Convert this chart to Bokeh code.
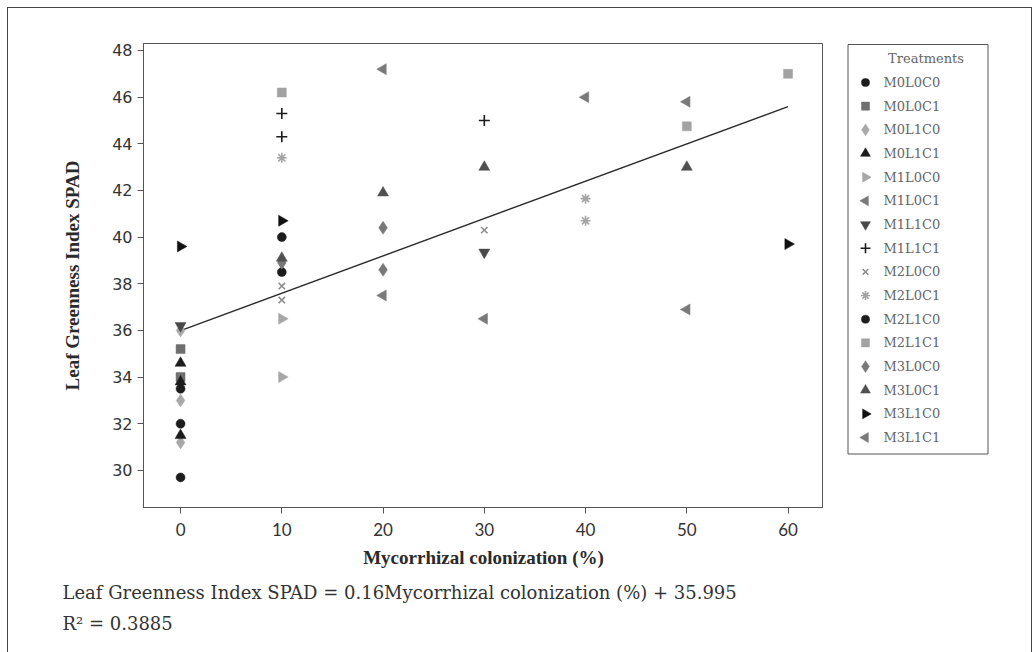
import math
from bokeh.plotting import figure
from bokeh.layouts import row
from bokeh.models import FixedTicker, Range1d, Title
from bokeh.core.properties import value
from bokeh.embed import file_html
from bokeh.resources import INLINE

# ---------------- data ----------------
treatments = ["M0L0C0", "M0L0C1", "M0L1C0", "M0L1C1", "M1L0C0", "M1L0C1",
              "M1L1C0", "M1L1C1", "M2L0C0", "M2L0C1", "M2L1C0", "M2L1C1",
              "M3L0C0", "M3L0C1", "M3L1C0", "M3L1C1"]

point_treatment = [
    "M0L0C0", "M0L0C0", "M0L0C0",
    "M0L0C1", "M0L0C1",
    "M0L1C0", "M0L1C0", "M0L1C0",
    "M0L1C1", "M0L1C1", "M0L1C1",
    "M1L0C0", "M1L0C0",
    "M1L0C1", "M1L0C1", "M1L0C1",
    "M1L1C0", "M1L1C0",
    "M1L1C1", "M1L1C1", "M1L1C1",
    "M2L0C0", "M2L0C0", "M2L0C0",
    "M2L0C1", "M2L0C1", "M2L0C1",
    "M2L1C0", "M2L1C0",
    "M2L1C1", "M2L1C1", "M2L1C1",
    "M3L0C0", "M3L0C0", "M3L0C0",
    "M3L0C1", "M3L0C1", "M3L0C1", "M3L0C1",
    "M3L1C0", "M3L1C0", "M3L1C0",
    "M3L1C1", "M3L1C1", "M3L1C1",
]
colonization = [
    0, 0, 0,
    0, 0,
    0, 0, 0,
    0, 0, 0,
    10, 10,
    20, 20, 30,
    0, 30,
    10, 10, 30,
    10, 10, 30,
    10, 40, 40,
    10, 10,
    10, 50, 60,
    10, 20, 20,
    10, 20, 30, 50,
    0, 10, 60,
    40, 50, 50,
]
spad = [
    33.5, 32.0, 29.7,
    35.2, 34.0,
    36.0, 33.0, 31.2,
    34.6, 33.8, 31.5,
    36.5, 34.0,
    47.2, 37.5, 36.5,
    36.2, 39.35,
    45.3, 44.3, 45.0,
    37.9, 37.3, 40.3,
    43.4, 41.65, 40.7,
    40.0, 38.5,
    46.2, 44.75, 47.0,
    38.9, 40.4, 38.6,
    39.1, 41.9, 43.0, 43.0,
    39.6, 40.7, 39.7,
    46.0, 45.8, 36.9,
]

x_ticks = [0, 10, 20, 30, 40, 50, 60]
y_ticks = [30, 32, 34, 36, 38, 40, 42, 44, 46, 48]

fit_slope = 0.16
fit_intercept = 35.995
r_squared = 0.3885

legend_title = "Treatments"

# ---------------- styles ----------------
BLACK = "#1c1c1c"
styles = {
    "M0L0C0": ("circle", BLACK, 0.0, 9),
    "M0L0C1": ("square", "#6f6f6f", 0.0, 9),
    "M0L1C0": ("diamond", "#a8a8a8", 0.0, 13),
    "M0L1C1": ("triangle", BLACK, 0.0, 11),
    "M1L0C0": ("triangle", "#a6a6a6", -math.pi / 2, 11),
    "M1L0C1": ("triangle", "#7a7a7a", math.pi / 2, 11),
    "M1L1C0": ("inverted_triangle", "#484848", 0.0, 11),
    "M1L1C1": ("cross", BLACK, 0.0, 11),
    "M2L0C0": ("x", "#8c8c8c", 0.0, 9),
    "M2L0C1": ("asterisk", "#a4a4a4", 0.0, 10),
    "M2L1C0": ("circle", BLACK, 0.0, 9),
    "M2L1C1": ("square", "#a2a2a2", 0.0, 9),
    "M3L0C0": ("diamond", "#787878", 0.0, 13),
    "M3L0C1": ("triangle", "#505050", 0.0, 11),
    "M3L1C0": ("triangle", "#111111", -math.pi / 2, 11),
    "M3L1C1": ("triangle", "#7a7a7a", math.pi / 2, 11),
}


def marker_kw(t, scale=1.0):
    marker, color, ang, size = styles[t]
    kw = dict(marker=marker, size=size * scale, angle=ang)
    if marker in ("cross", "x", "asterisk"):
        kw.update(line_color=color, line_width=1.6, fill_color=None)
    else:
        kw.update(fill_color=color, line_color=color, line_width=0.5)
    return kw


FRAME_TOP, FRAME_BOTTOM = 43, 145   # borders above / below the plotting frame

# ---------------- main chart ----------------
fig = figure(width=823, height=652, output_backend="svg", toolbar_location=None,
             x_range=Range1d(-3.66, 63.5), y_range=Range1d(28.41, 48.3),
             min_border_left=143, min_border_right=0, min_border_top=FRAME_TOP,
             min_border_bottom=FRAME_BOTTOM)
fig.background_fill_color = "white"
fig.border_fill_color = None
fig.outline_line_color = "#555555"
fig.outline_line_width = 1
fig.xgrid.visible = False
fig.ygrid.visible = False
fig.styles = {"box-shadow": "inset 7px 7px 0 0 #ffffff, inset 8px 8px 0 0 #444444"}

for ax in (fig.xaxis[0], fig.yaxis[0]):
    ax.axis_line_color = "#555555"
    ax.major_tick_line_color = "#555555"
    ax.major_tick_out = 6
    ax.major_tick_in = 0
    ax.minor_tick_line_color = None
    ax.major_label_text_color = "#333333"
    ax.axis_label_text_color = "#2a2a2a"
    ax.axis_label_text_font = "Liberation Serif"
    ax.axis_label_text_font_style = "bold"
    ax.axis_label_text_font_size = "19px"

fig.xaxis.ticker = FixedTicker(ticks=x_ticks)
fig.yaxis.ticker = FixedTicker(ticks=y_ticks)
fig.xaxis.major_label_text_font = "Lato"
fig.xaxis.major_label_text_font_size = "17px"
fig.yaxis.major_label_text_font = "DejaVu Sans"
fig.yaxis.major_label_text_font_size = "16px"
fig.xaxis.major_label_standoff = 9
fig.yaxis.major_label_standoff = 5
fig.xaxis.axis_label = "Mycorrhizal colonization (%)"
fig.yaxis.axis_label = "Leaf Greenness Index SPAD"
fig.xaxis.axis_label_standoff = 8
fig.yaxis.axis_label_standoff = 26

# regression line over the observed colonization range
fit_x = [min(colonization), max(colonization)]
fit_y = [fit_slope * v + fit_intercept for v in fit_x]
fig.line(fit_x, fit_y, line_color="#2a2a2a", line_width=1.4)

for t in treatments:
    xs = [c for c, tt in zip(colonization, point_treatment) if tt == t]
    ys = [s for s, tt in zip(spad, point_treatment) if tt == t]
    fig.scatter(xs, ys, **marker_kw(t))

eq_text = "Leaf Greenness Index SPAD = %.2fMycorrhizal colonization (%%) + %.3f" % (
    fit_slope, fit_intercept)
t1 = Title(text=eq_text, align="left", offset=-81, standoff=18,
           text_font="DejaVu Serif", text_font_size="18px", text_color="#333333",
           text_font_style="normal")
t2 = Title(text="R\u00b2 = %.4f" % r_squared, align="left", offset=-81, standoff=-1,
           text_font="DejaVu Serif", text_font_size="18px", text_color="#333333",
           text_font_style="normal")
fig.add_layout(t1, "below")
fig.add_layout(t2, "below")

# ---------------- legend panel (pixel-unit ranges, y measured down) ----------------
LEG_W = 209
frame_h = 652 - FRAME_TOP - FRAME_BOTTOM
leg = figure(width=LEG_W, height=652, output_backend="svg", toolbar_location=None,
             x_axis_type=None, y_axis_type=None, min_border=0,
             min_border_top=FRAME_TOP, min_border_bottom=FRAME_BOTTOM,
             x_range=Range1d(0, LEG_W), y_range=Range1d(frame_h, 0))
leg.background_fill_color = None
leg.border_fill_color = None
leg.outline_line_color = None
leg.xgrid.visible = False
leg.ygrid.visible = False
leg.styles = {"box-shadow": "inset 0 7px 0 0 #ffffff, inset 0 8px 0 0 #444444, "
                            "inset -1px 0 0 0 #444444"}

box_left, box_right, box_top, box_bottom = 24.5, 164.5, 1.0, 410.5
first_row, row_step = 39.0, 23.67
glyph_x, label_x = 42.0, 60.0

leg.quad(left=box_left, right=box_right, top=box_top, bottom=box_bottom,
         fill_color="white", line_color="#555555", line_width=1)
leg.text(x=[(box_left + box_right) / 2 + 8], y=[15.0], text=[legend_title],
         text_font=value("DejaVu Serif"), text_font_size="13px",
         text_color="#666666", text_align="center", text_baseline="middle")
for i, t in enumerate(treatments):
    yy = first_row + i * row_step
    leg.scatter([glyph_x], [yy], **marker_kw(t, 0.9))
row_y = [first_row + i * row_step for i in range(len(treatments))]
leg.text(x=[label_x] * len(treatments), y=row_y, text=treatments,
         text_font=value("DejaVu Serif"), text_font_size="13px",
         text_color="#666666", text_align="left", text_baseline="middle")

p = row(fig, leg, spacing=0)

open("out.html", "w").write(file_html(p, INLINE))
